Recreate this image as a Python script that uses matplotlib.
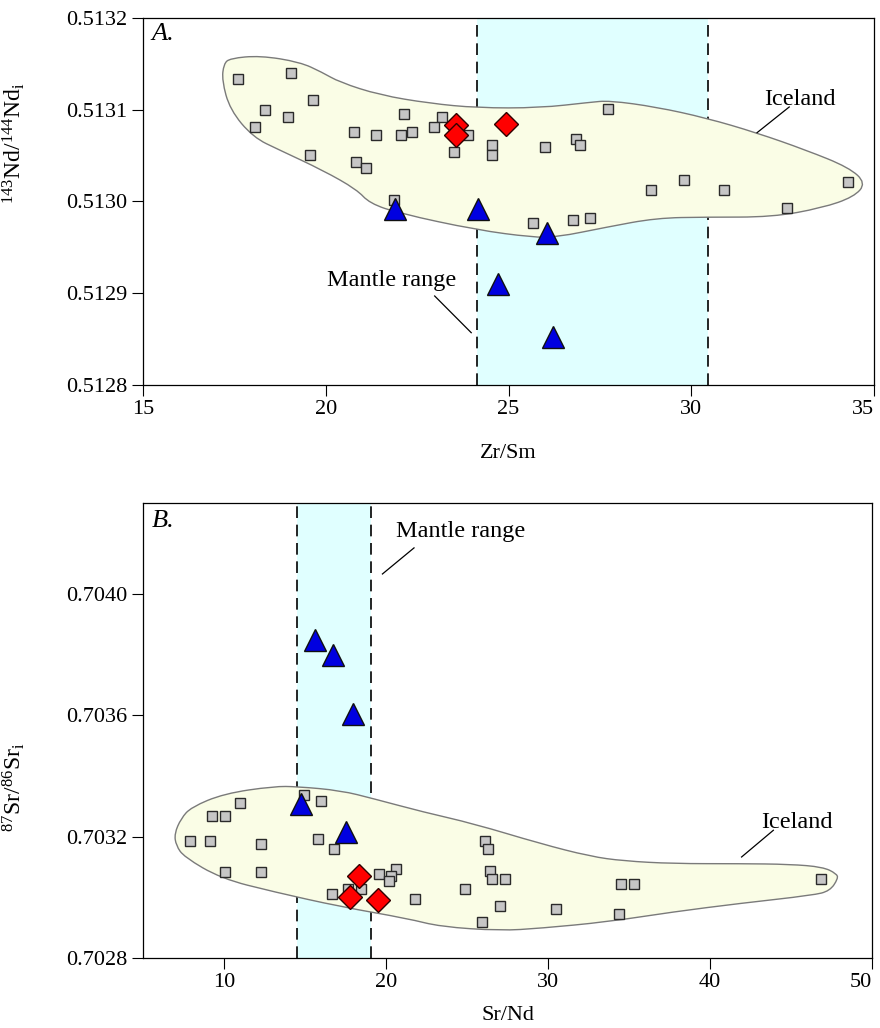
import numpy as np
import matplotlib
matplotlib.use("Agg")
import matplotlib.pyplot as plt
from matplotlib.path import Path
from matplotlib.patches import PathPatch

plt.rcParams['font.family'] = ['Liberation Serif', 'DejaVu Serif']
plt.rcParams['mathtext.fontset'] = 'custom'
plt.rcParams['mathtext.rm'] = 'Liberation Serif'
plt.rcParams['mathtext.it'] = 'Liberation Serif:italic'

# ---- panel A: Zr/Sm vs 143Nd/144Nd ----
a_sq_x = [17.59, 19.04, 19.64, 18.33, 18.96, 18.06, 19.58, 20.76, 21.37, 22.14,
          22.07, 22.35, 20.84, 21.09, 23.17, 22.95, 23.89, 23.52, 24.55, 24.55,
          21.86, 27.73, 26.01, 26.84, 26.96, 28.90, 29.80, 30.89, 34.30, 32.63,
          25.66, 26.77, 27.24]
a_sq_y = [0.513134, 0.513140, 0.513111, 0.513100, 0.513092, 0.513081, 0.513051,
          0.513076, 0.513073, 0.513095, 0.513073, 0.513076, 0.513043, 0.513037,
          0.513092, 0.513081, 0.513073, 0.513054, 0.513062, 0.513051, 0.513002,
          0.513101, 0.513059, 0.513068, 0.513062, 0.513012, 0.513023, 0.513012,
          0.513021, 0.512993, 0.512977, 0.512980, 0.512982]
a_tri_x = [21.90, 24.16, 26.04, 24.70, 26.22]
a_tri_y = [0.512992, 0.512992, 0.512966, 0.512910, 0.512852]
a_dia_x = [23.55, 23.57, 24.94]
a_dia_y = [0.513083, 0.513072, 0.513085]
a_band = (24.15, 30.45)
a_field_x = [17.38, 18.20, 19.29, 19.89, 20.38, 21.48, 22.84, 24.15, 25.85, 27.21,
             27.76, 29.04, 30.41, 31.78, 33.14, 34.32, 34.78, 34.45, 33.58, 32.21,
             30.41, 29.04, 27.68, 26.31, 25.66, 24.13, 22.02, 21.20, 20.85, 19.92,
             18.74, 18.01, 17.38, 17.16, 17.21]
a_field_y = [0.513156, 0.513159, 0.513152, 0.513141, 0.513130, 0.513116, 0.513107,
             0.513102, 0.513102, 0.513108, 0.513110, 0.513103, 0.513091, 0.513075,
             0.513056, 0.513037, 0.513020, 0.513005, 0.512993, 0.512983, 0.512983,
             0.512982, 0.512972, 0.512961, 0.512961, 0.512969, 0.512987, 0.512998,
             0.513013, 0.513034, 0.513056, 0.513070, 0.513100, 0.513132, 0.513150]

# ---- panel B: Sr/Nd vs 87Sr/86Sr ----
b_sq_x = [7.91, 9.12, 9.26, 10.06, 10.99, 10.06, 12.26, 12.26, 14.91, 15.98,
          15.83, 16.76, 16.64, 17.66, 18.48, 19.57, 20.64, 20.33, 20.18, 21.77,
          24.87, 26.10, 26.27, 26.42, 26.56, 27.33, 27.05, 25.95, 30.47, 34.52,
          35.31, 34.38, 46.83]
b_sq_y = [0.703186, 0.703186, 0.703268, 0.703268, 0.703310, 0.703085, 0.703085,
          0.703177, 0.703336, 0.703318, 0.703193, 0.703159, 0.703011, 0.703029,
          0.703028, 0.703077, 0.703094, 0.703070, 0.703053, 0.702994, 0.703027,
          0.703186, 0.703160, 0.703086, 0.703061, 0.703061, 0.702970, 0.702919,
          0.702960, 0.703043, 0.703043, 0.702944, 0.703061]
b_tri_x = [15.59, 16.73, 17.97, 14.74, 17.54]
b_tri_y = [0.703848, 0.703800, 0.703603, 0.703309, 0.703215]
b_dia_x = [18.34, 17.78, 19.53]
b_dia_y = [0.703071, 0.703000, 0.702991]
b_band = (14.5, 19.1)
b_field_x = [6.94, 7.35, 7.97, 10.00, 13.08, 14.54, 17.21, 19.24, 22.32, 25.40,
             29.53, 32.61, 34.65, 37.73, 41.85, 44.94, 46.97, 47.81, 47.91, 47.40,
             46.35, 41.85, 37.73, 33.66, 29.53, 27.07, 23.37, 21.34, 17.21, 13.08,
             9.82, 7.54, 7.04]
b_field_y = [0.703210, 0.703260, 0.703297, 0.703342, 0.703366, 0.703365, 0.703352,
             0.703325, 0.703281, 0.703243, 0.703177, 0.703135, 0.703120, 0.703111,
             0.703111, 0.703109, 0.703100, 0.703078, 0.703062, 0.703021, 0.703007,
             0.702980, 0.702952, 0.702919, 0.702898, 0.702890, 0.702903, 0.702930,
             0.702969, 0.703018, 0.703062, 0.703133, 0.703171]

FIELD_FC = '#fafde6'
BAND_FC = '#e0ffff'


def smooth_field(ax, xs, ys):
    # closed quadratic b-spline through the traced outline
    pts = np.column_stack([xs, ys])
    mids = (pts + np.roll(pts, -1, axis=0)) / 2
    verts = [mids[-1]]
    codes = [Path.MOVETO]
    for i in range(len(pts)):
        verts += [pts[i], mids[i]]
        codes += [Path.CURVE3, Path.CURVE3]
    verts.append(mids[-1])
    codes.append(Path.CLOSEPOLY)
    patch = PathPatch(Path(verts, codes), facecolor=FIELD_FC, edgecolor='#7a7a7a',
                      lw=1.0, zorder=2)
    ax.add_patch(patch)


def draw_panel(ax, sq, tri, dia, band, field):
    ax.axvspan(band[0], band[1], color=BAND_FC, lw=0, zorder=0)
    for xb in band:
        ax.axvline(xb, color='black', lw=1.2, ls=(0, (7, 4)), zorder=1)
    smooth_field(ax, *field)
    ax.plot(sq[0], sq[1], ls='none', marker='s', ms=7.8, mfc='#c6c6c6',
            mec='#2a2a2a', mew=1.0, zorder=3)
    ax.plot(tri[0], tri[1], ls='none', marker='^', ms=15.5, mfc='#0000e0',
            mec='#101010', mew=1.0, zorder=4)
    ax.plot(dia[0], dia[1], ls='none', marker='D', ms=12, mfc='#ff0000',
            mec='#300000', mew=1.0, zorder=5)
    ax.tick_params(direction='out', length=8, width=0.8, labelsize=16, pad=3,
                   top=False, right=False)
    for s in ax.spines.values():
        s.set_linewidth(0.9)


fig = plt.figure(figsize=(8.8, 10.28), dpi=100)

# panel A
ax1 = fig.add_axes([0.1625, 0.6255, 0.8307, 0.357])
draw_panel(ax1, (a_sq_x, a_sq_y), (a_tri_x, a_tri_y), (a_dia_x, a_dia_y),
           a_band, (a_field_x, a_field_y))
ax1.set_xlim(15, 35)
ax1.set_ylim(0.5128, 0.5132)
ax1.set_xticks([15, 20, 25, 30, 35])
ax1.set_xticklabels(['15', '20', '25', '30', '35'])
ax1.get_xticklabels()[-1].set_ha('right')
ax1.set_yticks([0.5128, 0.5129, 0.5130, 0.5131, 0.5132])
ax1.set_yticklabels(['0.5128', '0.5129', '0.5130', '0.5131', '0.5132'])
ax1.set_xlabel('Zr/Sm', fontsize=16)
ax1.xaxis.set_label_coords(0.5, -0.16)
ax1.set_ylabel(r'$^{143}$Nd/$^{144}$Nd$_{\mathrm{i}}$', fontsize=17)
ax1.yaxis.set_label_coords(-0.159, 0.66)
ax1.text(0.012, 0.985, 'A.', transform=ax1.transAxes, fontsize=19,
         style='italic', ha='left', va='top')
ax1.text(32.98, 0.513111, 'Iceland', fontsize=17.5, ha='center', va='center')
ax1.plot([32.68, 31.80], [0.513103, 0.513075], color='black', lw=0.9)
ax1.text(21.80, 0.512914, 'Mantle range', fontsize=17.5, ha='center', va='center')
ax1.plot([22.98, 23.98], [0.512897, 0.512857], color='black', lw=0.9)

# panel B
ax2 = fig.add_axes([0.1625, 0.0681, 0.8284, 0.4426])
draw_panel(ax2, (b_sq_x, b_sq_y), (b_tri_x, b_tri_y), (b_dia_x, b_dia_y),
           b_band, (b_field_x, b_field_y))
ax2.set_xlim(5, 50)
ax2.set_ylim(0.7028, 0.7043)
ax2.set_xticks([10, 20, 30, 40, 50])
ax2.set_xticklabels(['10', '20', '30', '40', '50'])
ax2.get_xticklabels()[-1].set_ha('right')
ax2.set_yticks([0.7028, 0.7032, 0.7036, 0.7040])
ax2.set_yticklabels(['0.7028', '0.7032', '0.7036', '0.7040'])
ax2.set_xlabel('Sr/Nd', fontsize=16)
ax2.xaxis.set_label_coords(0.5, -0.105)
ax2.set_ylabel(r'$^{87}$Sr/$^{86}$Sr$_{\mathrm{i}}$', fontsize=17)
ax2.yaxis.set_label_coords(-0.159, 0.376)
ax2.text(0.012, 0.985, 'B.', transform=ax2.transAxes, fontsize=19,
         style='italic', ha='left', va='top')
ax2.text(45.37, 0.703247, 'Iceland', fontsize=17.5, ha='center', va='center')
ax2.plot([43.91, 41.95], [0.703221, 0.703133], color='black', lw=0.9)
ax2.text(24.60, 0.704207, 'Mantle range', fontsize=17.5, ha='center', va='center')
ax2.plot([21.73, 19.78], [0.704152, 0.704066], color='black', lw=0.9)

fig.savefig('out.png', dpi=100)
